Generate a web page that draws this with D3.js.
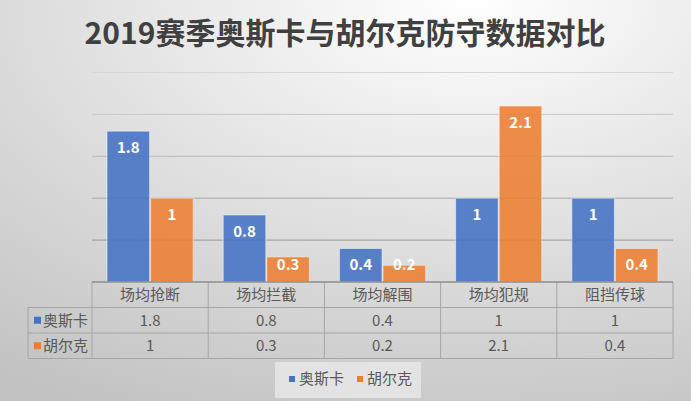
<!DOCTYPE html>
<html>
<head>
<meta charset="utf-8">
<script src="https://cdn.jsdelivr.net/npm/d3@7"></script>
<style>
  html, body { margin: 0; padding: 0; background: #fff; }
  svg { display: block; font-family: "Noto Sans CJK SC", "Noto Sans", sans-serif; }
</style>
</head>
<body>
<div id="chart"></div>
<script>
// data
const categories = ['场均抢断', '场均拦截', '场均解围', '场均犯规', '阻挡传球'];
const seriesNames = ['奥斯卡', '胡尔克'];
const oscar = [1.8, 0.8, 0.4, 1, 1];
const hulk = [1, 0.3, 0.2, 2.1, 0.4];
const colors = ['#4472C4', '#ED7D31'];
const gridTicks = [0.5, 1, 1.5, 2, 2.5];

const width = 691, height = 401;
const plot = { left: 92, right: 673, top: 72.5, bottom: 282 };

let svg = d3.select('#chart').append('svg').attr('width', width).attr('height', height);
let defs = svg.append('defs');

// background gradient
let bg = defs.append('radialGradient').attr('id', 'bg')
  .attr('cx', '68%').attr('cy', '0%').attr('r', '115%')
  .attr('gradientUnits', 'objectBoundingBox');
bg.append('stop').attr('offset', '0%').attr('stop-color', '#ffffff');
bg.append('stop').attr('offset', '100%').attr('stop-color', '#c2c2c2');
svg.append('rect').attr('width', width).attr('height', height).attr('fill', 'url(#bg)');

// title
svg.append('text')
  .attr('x', 345).attr('y', 44)
  .attr('text-anchor', 'middle')
  .attr('font-size', 30).attr('font-weight', 'bold')
  .attr('fill', '#404040')
  .text('2019赛季奥斯卡与胡尔克防守数据对比');

// scales
let x = d3.scaleBand().domain(categories).range([plot.left, plot.right])
  .paddingInner(0.25).paddingOuter(0.125);
let xCell = d3.scaleBand().domain(categories).range([plot.left, plot.right]);
let xSub = d3.scaleBand().domain(seriesNames).range([0, x.bandwidth()]);
let y = d3.scaleLinear().domain([0, 2.5]).range([plot.bottom, plot.top]);

// gridlines (look darker lower down on the gradient)
let gridColor = d3.scaleLinear().domain([0.5, 2.5]).range(['#999999', '#d6d6d6']);
svg.append('g').selectAll('line').data(gridTicks).enter().append('line')
  .attr('x1', plot.left).attr('x2', plot.right)
  .attr('y1', d => y(d)).attr('y2', d => y(d))
  .attr('stroke', d => gridColor(d)).attr('stroke-width', 1);

// bars
let rows = categories.map((c, i) => ({ cat: c, vals: [oscar[i], hulk[i]] }));
let groups = svg.append('g').selectAll('g').data(rows).enter().append('g')
  .attr('transform', d => `translate(${x(d.cat)},0)`);

groups.selectAll('rect').data(d => d.vals.map((v, j) => ({ v, j }))).enter().append('rect')
  .attr('x', d => xSub(seriesNames[d.j]) + 0.5)
  .attr('y', d => y(d.v))
  .attr('width', xSub.bandwidth() - 1)
  .attr('height', d => y(0) - y(d.v))
  .attr('fill', d => colors[d.j]).attr('fill-opacity', 0.88)
  .attr('stroke', '#ffffff').attr('stroke-opacity', 0.5).attr('stroke-width', 1);

groups.selectAll('text').data(d => d.vals.map((v, j) => ({ v, j }))).enter().append('text')
  .attr('x', d => xSub(seriesNames[d.j]) + xSub.bandwidth() / 2)
  .attr('y', d => Math.min(y(d.v) + 17, y(0) - 17))
  .attr('dy', '0.35em')
  .attr('text-anchor', 'middle')
  .attr('font-size', 15).attr('font-weight', 'bold')
  .attr('fill', '#ffffff')
  .text(d => d.v);

// data table
const rowH = 25.5;
const tableLeft = 28;
let table = svg.append('g');
const lineColor = '#a6a6a6';

// header cells
table.selectAll('.hdr').data(categories).enter().append('text')
  .attr('x', d => xCell(d) + xCell.bandwidth() / 2)
  .attr('y', plot.bottom + rowH / 2)
  .attr('dy', '0.35em').attr('text-anchor', 'middle')
  .attr('font-size', 15).attr('fill', '#595959')
  .text(d => d);

// value rows
[oscar, hulk].forEach((vals, r) => {
  let cy = plot.bottom + rowH * (r + 1.5);
  table.append('g').selectAll('text').data(vals).enter().append('text')
    .attr('x', (d, i) => xCell(categories[i]) + xCell.bandwidth() / 2)
    .attr('y', cy).attr('dy', '0.35em').attr('text-anchor', 'middle')
    .attr('font-size', 15).attr('fill', '#595959')
    .text(d => d);
  table.append('rect')
    .attr('x', tableLeft + 6).attr('y', cy - 3.5).attr('width', 7).attr('height', 7)
    .attr('fill', colors[r]);
  table.append('text')
    .attr('x', tableLeft + 15).attr('y', cy).attr('dy', '0.35em')
    .attr('font-size', 15).attr('fill', '#595959')
    .text(seriesNames[r]);
});

// table lines
let tBottom = plot.bottom + rowH * 3;
[1, 2, 3].forEach(r => {
  table.append('line')
    .attr('x1', tableLeft).attr('x2', plot.right)
    .attr('y1', plot.bottom + rowH * r).attr('y2', plot.bottom + rowH * r)
    .attr('stroke', lineColor);
});
let vx = categories.map(c => xCell(c)).concat([plot.right]);
table.selectAll('.v').data(vx).enter().append('line')
  .attr('x1', d => d).attr('x2', d => d)
  .attr('y1', plot.bottom).attr('y2', tBottom)
  .attr('stroke', lineColor);
table.append('line')
  .attr('x1', tableLeft).attr('x2', tableLeft)
  .attr('y1', plot.bottom + rowH).attr('y2', tBottom)
  .attr('stroke', lineColor);

// baseline
svg.append('line')
  .attr('x1', plot.left).attr('x2', plot.right)
  .attr('y1', plot.bottom).attr('y2', plot.bottom)
  .attr('stroke', '#8c8c8c').attr('stroke-width', 1.5);

// legend
let legend = svg.append('g');
legend.append('rect')
  .attr('x', 275).attr('y', 362).attr('width', 146).attr('height', 36)
  .attr('fill', '#e8e8e8').attr('fill-opacity', 0.8);
seriesNames.forEach((n, i) => {
  let lx = 289 + i * 68;
  legend.append('rect').attr('x', lx).attr('y', 376).attr('width', 6).attr('height', 6)
    .attr('fill', colors[i]);
  legend.append('text').attr('x', lx + 10).attr('y', 379).attr('dy', '0.35em')
    .attr('font-size', 15).attr('fill', '#595959').text(n);
});
</script>
</body>
</html>
